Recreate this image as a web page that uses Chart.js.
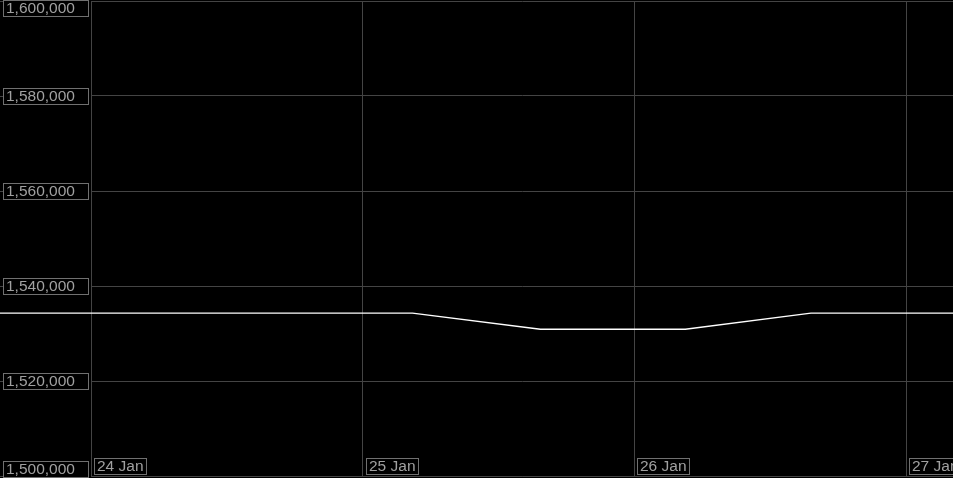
<!DOCTYPE html>
<html>
<head>
<meta charset="utf-8">
<script src="https://cdn.jsdelivr.net/npm/chart.js@4"></script>
<style>
html, body { margin: 0; padding: 0; background: #000; }
#wrap { width: 953px; height: 478px; }
</style>
</head>
<body>
<div id="wrap"><canvas id="priceChart"></canvas></div>
<script>
// hours since 24 Jan 00:00
const hours = [-12, 28.4, 39.7, 52.5, 63.6, 84];
const prices = [1534300, 1534300, 1530900, 1530900, 1534300, 1534300];
const dayLabels = ['24 Jan', '25 Jan', '26 Jan', '27 Jan'];
const yTicks = [1500000, 1520000, 1540000, 1560000, 1580000, 1600000];

const gridColor = '#444';
const boxColor = '#707070';
const textColor = '#a0a0a0';
const labelFont = '15.5px "Liberation Sans", Arial, sans-serif';

// boxed tick labels drawn from the scales
const boxedLabels = {
  id: 'boxedLabels',
  afterDraw(chart) {
    const ctx = chart.ctx;
    const x = chart.scales.x;
    const y = chart.scales.y;
    const H = chart.height;
    ctx.save();
    ctx.font = labelFont;
    ctx.textBaseline = 'middle';
    ctx.lineWidth = 1;

    yTicks.forEach(v => {
      const py = Math.round(y.getPixelForValue(v));
      let top = py - 8;
      if (top < 0) top = 0;
      if (top + 16 > H - 1) top = H - 17;
      ctx.strokeStyle = boxColor;
      ctx.strokeRect(3.5, top + 0.5, 85, 16);
      ctx.fillStyle = textColor;
      ctx.fillText(v.toLocaleString('en-US'), 6, top + 9);
      // tiny tick mark
      ctx.strokeStyle = gridColor;
      ctx.beginPath();
      ctx.moveTo(0, py + 0.5);
      ctx.lineTo(3, py + 0.5);
      ctx.stroke();
    });

    dayLabels.forEach((lab, i) => {
      const px = Math.round(x.getPixelForValue(i * 24));
      const w = ctx.measureText(lab).width + 5;
      const top = Math.round(y.bottom) - 18;
      ctx.strokeStyle = boxColor;
      ctx.strokeRect(px + 3.5, top + 0.5, Math.round(w), 16);
      ctx.fillStyle = textColor;
      ctx.fillText(lab, px + 6, top + 9);
    });
    ctx.restore();
  }
};

const ctx = document.getElementById('priceChart').getContext('2d');
new Chart(ctx, {
  type: 'line',
  data: {
    datasets: [{
      data: hours.map((h, i) => ({ x: h, y: prices[i] })),
      borderColor: '#ffffff',
      borderWidth: 1.3,
      pointRadius: 0,
      tension: 0,
      clip: false
    }]
  },
  options: {
    responsive: true,
    maintainAspectRatio: false,
    animation: false,
    events: [],
    layout: {
      padding: { left: 91, top: 1, right: 0, bottom: 2 }
    },
    scales: {
      x: {
        type: 'linear',
        min: 0,
        max: 76.15,
        afterBuildTicks: s => { s.ticks = dayLabels.map((_, i) => ({ value: i * 24 })); },
        ticks: { display: false },
        grid: { color: gridColor, drawTicks: false, lineWidth: 1 },
        border: { color: gridColor }
      },
      y: {
        min: 1500000,
        max: 1600000,
        afterBuildTicks: s => { s.ticks = yTicks.map(v => ({ value: v })); },
        ticks: { display: false },
        grid: { color: gridColor, drawTicks: false, lineWidth: 1 },
        border: { color: gridColor }
      }
    },
    plugins: {
      legend: { display: false },
      tooltip: { enabled: false }
    }
  },
  plugins: [boxedLabels]
});
</script>
</body>
</html>
